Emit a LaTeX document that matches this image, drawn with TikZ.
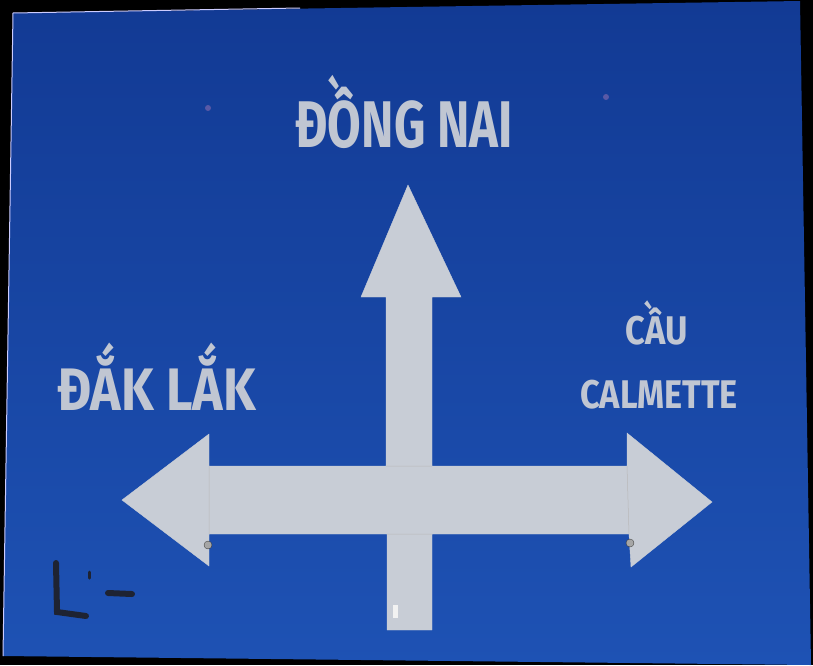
\documentclass[tikz,border=0pt]{standalone}
\usepackage{fontspec}
\setmainfont{Fira Sans}[FakeStretch=0.86]
\definecolor{signblueTop}{RGB}{18,58,148}
\definecolor{signblueBot}{RGB}{30,82,180}
\definecolor{signwhite}{RGB}{200,205,214}
\definecolor{signtext}{RGB}{192,198,210}
\definecolor{markink}{RGB}{30,35,50}
\tikzset{
  arrowpart/.style={fill=signwhite, draw=signwhite, line width=0.4pt},
  signlabel/.style={text=signtext, font=\bfseries, inner sep=0pt},
  screw/.style={fill=gray!70, draw=gray!40!black, line width=0.3pt},
  hole/.style={fill=gray!70!blue},
  ink/.style={draw=markink, line width=6pt, line cap=round}
}
\begin{document}
\begin{tikzpicture}[x=1pt,y=-1pt]
\useasboundingbox (0,0) rectangle (813,665);
\fill[black] (0,0) rectangle (813,665);
% sign plate
\shade[top color=signblueTop, bottom color=signblueBot]
  (13,13) -- (800,1) -- (811,665) -- (3,656) -- cycle;
\draw[white!80!blue, line width=1pt] (3,656) -- (13,13) -- (300,8);
% arrows
\fill[arrowpart] (122,500) -- (209,434) -- (209,466) -- (386,466) -- (386,297)
  -- (361,297) -- (408,185) -- (461,297) -- (432,297) -- (432,466)
  -- (627,466) -- (627,433) -- (712,502) -- (631,567) -- (629,534)
  -- (432,534) -- (432,630) -- (387,630) -- (387,534) -- (209,534)
  -- (209,566) -- cycle;
% faint seams
\draw[gray!55, line width=0.5pt] (209,466) -- (209,534) (627,466) -- (629,534)
  (386,466) -- (432,466) (387,534) -- (432,534);
% screws
\fill[screw] (208,545) circle (4);
\fill[screw] (630,543) circle (4);
\fill[hole] (208,108) circle (3);
\fill[hole] (606,97) circle (3);
\fill[white!90!gray] (393,605) rectangle (398,618);
% marks
\draw[ink] (56,563) -- (57,612) -- (86,616);
\draw[markink, line width=3pt, line cap=round] (89,572) -- (89,578);
\draw[ink] (108,593) -- (132,594);
% labels
\node[signlabel, font=\bfseries\fontsize{66}{66}\selectfont, anchor=base] (dongnai) at (404,147) {\scalebox{0.86}[1]{ĐỒNG NAI}};
\node[signlabel, font=\bfseries\fontsize{60}{60}\selectfont, anchor=base west] (daklak) at (57,410) {ĐẮK LẮK};
\node[signlabel, font=\bfseries\fontsize{40}{40}\selectfont, anchor=base] (cau) at (657,344) {CẦU};
\node[signlabel, font=\bfseries\fontsize{40}{40}\selectfont, anchor=base west] (calmette) at (580,408) {CALMETTE};
\end{tikzpicture}
\end{document}
